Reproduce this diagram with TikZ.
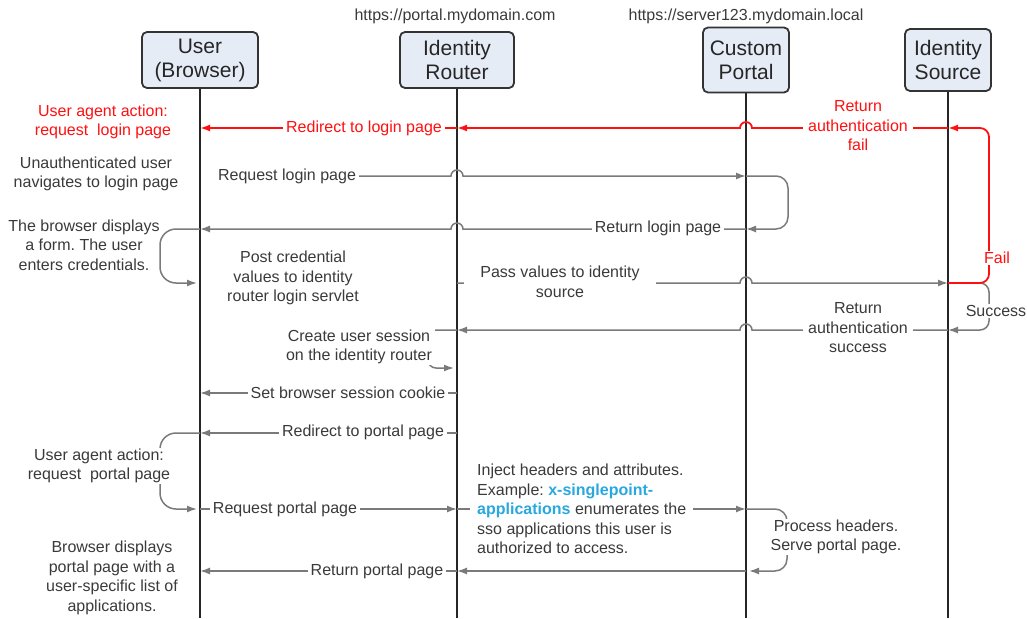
\documentclass[tikz,border=0pt]{standalone}
\usepackage{fontspec}
\setmainfont{Liberation Sans}
\usetikzlibrary{arrows.meta,calc}
\definecolor{hdrfill}{HTML}{E6ECF6}
\definecolor{linegray}{HTML}{7A7A7A}
\definecolor{txtgray}{HTML}{3A3A3A}
\definecolor{redline}{HTML}{FF1010}
\definecolor{bluetxt}{HTML}{29A8E0}
\frenchspacing
\begin{document}
\begin{tikzpicture}[x=1pt,y=-1pt,
  hdr/.style={draw=black!80, line width=1.8pt, fill=hdrfill, rounded corners=5pt, align=center,
    font=\fontsize{21}{24}\selectfont, text=black!85, inner sep=0pt},
  life/.style={draw=black!85, line width=2pt},
  msg/.style={draw=linegray, line width=1.5pt},
  redmsg/.style={draw=redline, line width=1.8pt},
  arrowend/.style={-{Latex[length=10pt,width=7pt]}},
  notetext/.style={font=\fontsize{16}{19.5}\selectfont, text=txtgray, align=center, inner sep=0pt},
  lbl/.style={notetext, fill=white, inner xsep=3pt, inner ysep=1pt}]
\useasboundingbox (0,0) rectangle (1027,618);

% URLs
\node[notetext] (url1) at (455,16) {https://portal.mydomain.com};
\node[notetext] (url2) at (746,16) {https://server123.mydomain.local};

% participants
\node[hdr, minimum width=116pt, minimum height=56pt] (user) at (200,60) {User\\(Browser)};
\node[hdr, minimum width=114pt, minimum height=56pt] (router) at (457,60) {Identity\\Router};
\node[hdr, minimum width=86pt, minimum height=65pt] (portal) at (746,60) {Custom\\Portal};
\node[hdr, minimum width=86pt, minimum height=62pt] (source) at (948,60) {Identity\\Source};

\coordinate (bot) at (0,618);
\coordinate (U) at (user.south);
\coordinate (R) at (router.south);
\coordinate (P) at (portal.south);
\coordinate (S) at (source.south);
\draw[life] (U) -- (U |- bot);
\draw[life] (R) -- (R |- bot);
\draw[life] (P) -- (P |- bot);
\draw[life] (S) -- (S |- bot);

% message rows
\coordinate (m0) at (0,128);
\coordinate (m1) at (0,176);
\coordinate (m2) at (0,229);
\coordinate (m3) at (0,283);
\coordinate (m4) at (0,330);
\coordinate (m5) at (0,368);
\coordinate (m6) at (0,393);
\coordinate (m7) at (0,433);
\coordinate (m8) at (0,509);
\coordinate (m9) at (0,571);
% loop columns
\coordinate (loopX) at (989,0);
\coordinate (portLoop) at (788,0);
\coordinate (uLoop) at (160,0);
\coordinate (rLoop) at (428,0);
\coordinate (pLoop) at (787,0);

% success / fail loops at identity source
\draw[msg, arrowend, rounded corners=9pt] (S|-m3) -- (loopX|-m3) -- (loopX|-m4) -- (S|-m4);
\draw[redmsg, arrowend, rounded corners=9pt] (S|-m3) -- (loopX|-m3) -- (loopX|-m0) -- (S|-m0);

% red return fail / redirect
\draw[redmsg, arrowend] (S|-m0) -- ($(P|-m0)+(6,0)$) arc[start angle=0,end angle=180,radius=6pt] -- (R|-m0);
\draw[redmsg, arrowend] (R|-m0) -- (U|-m0);

% request login page
\node[lbl] (lreq) at (287,176) {Request login page};
\draw[msg, arrowend] (lreq.east) -- ($(R|-m1)+(-6,0)$) arc[start angle=180,end angle=0,radius=6pt] -- (P|-m1);
\draw[msg, arrowend, rounded corners=12pt] (P|-m1) -- (portLoop|-m1) -- (portLoop|-m2) -- (P|-m2);

% return login page
\draw[msg, arrowend] (P|-m2) -- ($(R|-m2)+(6,0)$) arc[start angle=0,end angle=180,radius=6pt] -- (U|-m2);
\draw[msg, arrowend, rounded corners=16pt] (U|-m2) -- (uLoop|-m2) -- (uLoop|-m3) -- ($(U|-m3)+(-3,0)$);

% pass values
\draw[msg, arrowend] (R|-m3) -- ($(P|-m3)+(-6,0)$) arc[start angle=180,end angle=0,radius=6pt] -- (S|-m3);

% return authentication success
\draw[msg, arrowend] (S|-m4) -- ($(P|-m4)+(6,0)$) arc[start angle=0,end angle=180,radius=6pt] -- (R|-m4);
\draw[msg, arrowend, rounded corners=8pt] (R|-m4) -- (rLoop|-m4) -- (rLoop|-m5) -- ($(R|-m5)+(-3,0)$);

% cookie, redirect to portal
\draw[msg, arrowend] (R|-m6) -- (U|-m6);
\draw[msg, arrowend] (R|-m7) -- (U|-m7);
\draw[msg, arrowend, rounded corners=16pt] (U|-m7) -- (uLoop|-m7) -- (uLoop|-m8) -- ($(U|-m8)+(-3,0)$);

% request portal page, inject headers
\draw[msg, arrowend] (U|-m8) -- (R|-m8);
\draw[msg, arrowend] (R|-m8) -- (P|-m8);
\draw[msg, arrowend, rounded corners=12pt] (P|-m8) -- (pLoop|-m8) -- (pLoop|-m9) -- ($(P|-m9)+(3,0)$);

% return portal page
\draw[msg, arrowend] (P|-m9) -- (R|-m9);
\draw[msg, arrowend] (R|-m9) -- (U|-m9);

% labels on lines
\node[lbl, text=redline] (lredir) at (364,128) {Redirect to login page};
\node[lbl, text=redline, inner xsep=5pt] (lfail) at (858,126) {Return\\authentication\\fail};
\node[lbl, text=redline] (lf) at (997,258) {Fail};
\node[lbl] (lsucc) at (996,311) {Success};
\node[lbl] (lret) at (658,228) {Return login page};
\node[lbl, inner xsep=16pt] (lpass) at (560,282) {Pass values to identity\\source};
\node[lbl, inner xsep=5pt] (lsuccret) at (858,328) {Return\\authentication\\success};
\node[lbl] (lsess) at (359,347) {Create user session\\on the identity router};
\node[lbl] (lcook) at (348,393) {Set browser session cookie};
\node[lbl] (lredp) at (363,432) {Redirect to portal page};
\node[lbl] (lreqp) at (285,509) {Request portal page};
\node[lbl, anchor=west, align=left, inner xsep=7pt] (linj) at (470,509)
  {Inject headers and attributes.\\
   Example: {\bfseries\color{bluetxt}x-singlepoint-}\\
   {\bfseries\color{bluetxt}applications} enumerates the\\
   sso applications this user is\\
   authorized to access.};
\node[lbl] (lproc) at (836,537) {Process headers.\\Serve portal page.};
\node[lbl] (lretp) at (377,571) {Return portal page};

% side notes
\node[notetext, text=redline] (nua) at (103,122) {User agent action:\\request\ \ login page};
\node[notetext] (nun) at (96,174) {Unauthenticated user\\navigates to login page};
\node[notetext] (nbr) at (84,245) {The browser displays\\a form. The user\\enters credentials.};
\node[notetext] (npost) at (293,278) {Post credential\\values to identity\\router login servlet};
\node[lbl] (nua2) at (99,466) {User agent action:\\request\ \ portal page};
\node[notetext] (nbd) at (112,578) {Browser displays\\portal page with a\\user-specific list of\\applications.};
\end{tikzpicture}
\end{document}
